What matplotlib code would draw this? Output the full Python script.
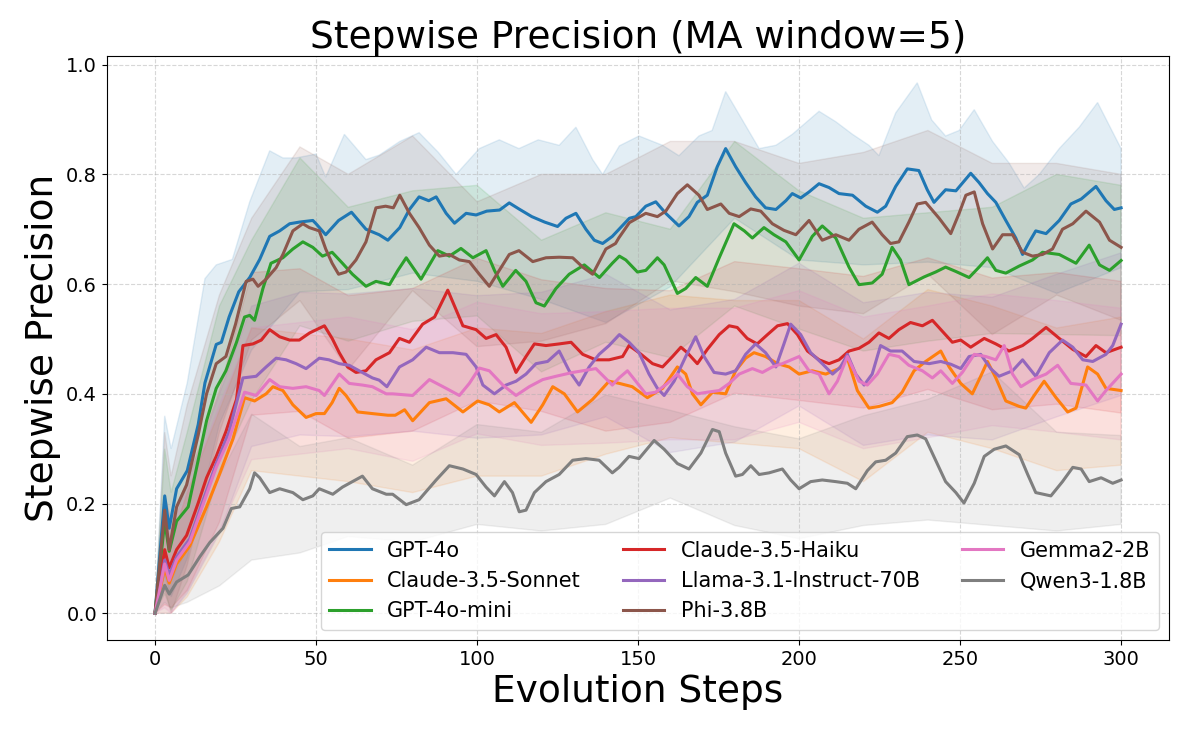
import matplotlib
matplotlib.use("Agg")
import matplotlib.pyplot as plt
import numpy as np

# Moving-average precision per model as (step, value) pairs
GPT4O = [(0, 0), (3, .214), (4.4, .155), (6.7, .227), (10, .26), (13.4, .344), (15.5, .42), (19, .49),
         (20.6, .494), (23, .54), (26, .586), (29.4, .612), (32.5, .645), (35.6, .687), (38.7, .697),
         (41.8, .71), (44.8, .713), (49, .716), (50, .71), (53, .69), (57, .716), (61, .731), (65.5, .70),
         (69.6, .69), (72.3, .68), (76, .703), (79, .736), (82, .759), (85, .752), (87.3, .759), (90.4, .729),
         (93, .711), (96.6, .729), (99.7, .726), (103, .733), (107, .735), (110, .748), (113, .737),
         (117, .723), (121, .713), (125, .705), (127.6, .72), (130.7, .729), (133.8, .70), (136.4, .68),
         (139, .674), (142, .687), (147.3, .72), (149.3, .723), (152.4, .742), (155.5, .75), (158.6, .729),
         (162.7, .706), (165.8, .723), (168.4, .749), (171.5, .762), (174.6, .814), (177.2, .847),
         (180.3, .814), (183.4, .785), (186.5, .759), (189.6, .739), (192.8, .736), (195.9, .752),
         (197.9, .765), (200.5, .757), (203.1, .768), (206.2, .783), (209.3, .776), (212.4, .765),
         (216.6, .762), (220.7, .742), (224.3, .731), (226.9, .742), (230, .778), (233.6, .81), (237.2, .807),
         (239.8, .772), (241.9, .749), (245.5, .772), (248.7, .77), (253.3, .802), (255.9, .785),
         (258.5, .765), (261.1, .749), (264.2, .716), (267.3, .684), (269.4, .654), (271.5, .677),
         (273.5, .697), (276.7, .692), (280.8, .716), (284.4, .746), (287.6, .755), (292.2, .778),
         (295.3, .752), (297.9, .736), (300, .739)]

SONNET = [(0, 0), (3, .083), (4.4, .055), (6.7, .09), (10.8, .123), (16, .194), (20, .253), (24.2, .318),
          (27.8, .393), (30.9, .387), (34.5, .40), (36.6, .413), (39.7, .406), (42.8, .38), (46.9, .357),
          (50, .364), (52.6, .364), (55, .384), (57.2, .41), (59.3, .397), (62.9, .367), (67.5, .364),
          (72.3, .361), (74.6, .361), (77.5, .371), (80, .351), (85.2, .384), (90.4, .391), (95.6, .367),
          (100.2, .387), (103.8, .38), (106.9, .367), (111.6, .384), (116.8, .348), (120.4, .38),
          (123.5, .413), (127.1, .40), (131.2, .367), (135.9, .39), (141, .423), (144.2, .419),
          (148.2, .413), (152.9, .393), (157.6, .41), (162.2, .449), (164.8, .436), (166.9, .40),
          (169.5, .38), (173.1, .403), (177.2, .40), (180.3, .442), (183.4, .465), (186, .475),
          (189.6, .468), (193.3, .455), (196.9, .449), (200, .436), (204.1, .442), (208.3, .436),
          (212.4, .446), (215, .465), (218.1, .406), (221.7, .374), (224.8, .377), (228.9, .384),
          (232, .403), (235.7, .442), (239.3, .459), (244, .478), (246.6, .449), (250.2, .419),
          (253.8, .40), (256.4, .432), (258.5, .459), (261.1, .429), (264.2, .387), (268.4, .377),
          (270.4, .374), (273, .397), (276.1, .423), (279.8, .393), (283.4, .367), (286, .374),
          (289.6, .449), (292.7, .436), (295.3, .41), (300, .406)]

GPT4O_MINI = [(0, 0), (3, .168), (4.4, .113), (6.7, .168), (10.3, .194), (13.4, .279), (16, .351), (19, .41),
              (22, .442), (25.3, .494), (27.8, .54), (29.4, .543), (30.9, .534), (33.5, .592), (36, .638),
              (39.7, .648), (42.8, .664), (45.9, .677), (49, .667), (52, .651), (55, .658), (58.2, .638),
              (61.3, .618), (65.5, .596), (68.6, .605), (72.8, .599), (75.4, .625), (78, .648), (82.6, .609),
              (85.2, .635), (87.8, .661), (91.4, .651), (95, .665), (98.7, .648), (102.8, .661),
              (105.4, .625), (108, .596), (112, .625), (115.2, .605), (118.3, .566), (120.9, .56),
              (124.5, .592), (128.6, .618), (133.3, .635), (138, .612), (142, .638), (144.2, .651),
              (146.2, .644), (149.8, .622), (152.4, .625), (156, .648), (158.1, .635), (162.2, .583),
              (164.8, .592), (167.9, .612), (171.5, .596), (175.2, .648), (179.8, .71), (183, .697),
              (185.5, .684), (189.1, .703), (192.2, .69), (195.9, .677), (200, .644), (204.1, .687),
              (207.2, .706), (211.4, .684), (215.5, .631), (218.6, .599), (222.7, .602), (225.8, .618),
              (228.9, .667), (231.5, .644), (234.1, .599), (238.8, .613), (242.4, .622), (245.5, .631),
              (248.7, .623), (252.8, .612), (255.9, .631), (258.5, .648), (261.1, .625), (264.2, .62),
              (268.4, .633), (272.5, .644), (275.6, .658), (280.8, .654), (286, .638), (290.1, .671),
              (293.3, .635), (296.4, .625), (300, .643)]

HAIKU = [(0, 0), (3, .116), (4.4, .083), (6.7, .116), (9.8, .142), (13.4, .201), (16, .247), (19, .286),
         (22, .331), (25.3, .39), (27.3, .488), (30.4, .491), (33, .498), (35.6, .517), (38.7, .504),
         (41.8, .498), (44.8, .498), (48, .511), (52.6, .524), (55, .501), (57.2, .475), (59.8, .449),
         (62.4, .439), (65.5, .442), (68.6, .462), (72.8, .475), (75.9, .501), (79, .494), (83.1, .527),
         (86.8, .54), (90.9, .589), (95.6, .524), (99.7, .517), (102.8, .501), (105.9, .508), (109, .485),
         (112.1, .439), (115.2, .468), (117.8, .491), (121.4, .488), (125.5, .491), (129.2, .494),
         (132.8, .472), (136.9, .462), (141, .462), (145.2, .468), (147.2, .488), (150.3, .475),
         (154.5, .455), (157.6, .449), (160.7, .468), (163.3, .485), (165.3, .475), (168.4, .455),
         (171.5, .481), (175.2, .508), (178.3, .524), (180.8, .521), (183.9, .501), (187, .491),
         (190.2, .508), (193.3, .524), (196.4, .528), (199.5, .508), (202.6, .478), (206.2, .462),
         (209.3, .455), (212.4, .462), (215.5, .478), (218.6, .483), (221.7, .494), (224.8, .511),
         (227.9, .501), (231, .517), (234.6, .53), (238.3, .524), (241.4, .534), (244.5, .514),
         (247.6, .494), (250.2, .498), (253.3, .485), (257.5, .501), (261.1, .491), (265.2, .478),
         (269.4, .488), (272.5, .501), (276.7, .521), (280.8, .501), (285, .481), (289.1, .468),
         (292.2, .488), (295.3, .475), (300, .485)]

LLAMA = [(0, 0), (3, .097), (4.4, .07), (6.7, .103), (10.8, .136), (15, .207), (19, .273), (23, .331),
         (27.3, .429), (31.4, .432), (34.5, .449), (37.6, .465), (40.7, .462), (43.8, .455), (46.9, .446),
         (51, .465), (54, .462), (57.2, .455), (60.3, .452), (63.4, .442), (67.5, .429), (69.6, .425),
         (72, .413), (75.9, .449), (80, .462), (84.2, .485), (88.3, .475), (92.5, .475), (96.6, .472),
         (99.7, .449), (101.8, .416), (105.4, .40), (109, .416), (112.1, .423), (115.2, .436),
         (118.3, .455), (121.9, .459), (125.5, .478), (128.6, .442), (131.7, .416), (134.8, .449),
         (137.9, .472), (141, .488), (144.2, .508), (147.2, .494), (150.3, .475), (153.4, .436),
         (156, .41), (158.1, .397), (161.2, .423), (164.8, .468), (167.9, .504), (170.5, .468),
         (173.6, .439), (177.2, .436), (180.3, .442), (183.4, .472), (186.5, .491), (189.6, .475),
         (192.8, .449), (195.3, .491), (197.4, .527), (200.5, .508), (203.6, .475), (207.2, .455),
         (210.4, .436), (212.9, .449), (215, .472), (217.6, .436), (220.2, .416), (222.7, .436),
         (225.3, .488), (228.4, .478), (232, .478), (235.7, .459), (240.4, .455), (244, .459),
         (247.1, .454), (250.2, .446), (252.8, .468), (256.4, .472), (259.5, .446), (262.1, .432),
         (266.3, .442), (269.4, .462), (273.5, .432), (277.7, .475), (281.8, .498), (285, .485),
         (288.1, .462), (291.2, .459), (295.3, .472), (297.4, .488), (300, .527)]

PHI = [(0, 0), (3, .188), (4.4, .116), (6.7, .194), (9.8, .234), (13.4, .325), (16, .40), (19, .455),
       (22, .468), (25, .527), (28.3, .605), (30.4, .609), (32, .596), (34.5, .609), (37.6, .63),
       (39.7, .654), (42.8, .697), (45.9, .71), (47.9, .703), (51, .697), (53, .664), (55, .638), (57, .618),
       (59.3, .622), (62.4, .644), (65.5, .677), (68.6, .739), (71.6, .742), (74, .739), (76, .762),
       (79, .729), (82, .703), (85.2, .671), (88.3, .651), (91.4, .654), (94.5, .644), (97.6, .641),
       (100.7, .618), (103.8, .596), (106.9, .625), (110, .654), (113, .661), (117.3, .641), (121.4, .648),
       (125.5, .649), (129.7, .648), (132.8, .631), (135.9, .618), (140, .664), (143, .674), (144, .684),
       (147.3, .712), (152.4, .729), (156, .723), (158.6, .733), (162.2, .765), (165.3, .781),
       (168.9, .762), (171.5, .736), (175.7, .746), (178.3, .729), (181.4, .723), (185, .737),
       (188.1, .733), (191.7, .71), (195.3, .698), (199, .69), (203.1, .716), (207.2, .68), (211.4, .69),
       (215.5, .68), (218.6, .70), (222.7, .713), (225.8, .69), (228.4, .674), (231, .677), (234.1, .713),
       (236.7, .746), (239.3, .749), (243.5, .72), (247.1, .692), (249.7, .729), (251.8, .762),
       (254.4, .768), (257, .71), (260.1, .664), (263.2, .69), (266.3, .69), (269.4, .658), (272.5, .651),
       (275.6, .654), (278.7, .664), (281.8, .70), (285, .71), (289.1, .733), (293.3, .713), (296.4, .68),
       (300, .667)]

GEMMA = [(0, 0), (3, .09), (4.4, .06), (6.7, .097), (10.8, .13), (15, .20), (19, .266), (23, .318),
         (27.8, .403), (31.4, .397), (35.6, .426), (38.7, .413), (42.8, .41), (46.9, .413), (51, .406),
         (52.6, .397), (57.2, .436), (60.3, .419), (64.4, .416), (67.5, .413), (71.8, .40), (73.8, .40),
         (80, .397), (85.2, .426), (90.4, .41), (94.5, .397), (97.6, .419), (100.7, .447), (103.8, .442),
         (108, .416), (112.1, .397), (116.2, .413), (120.4, .426), (124.5, .432), (129.7, .439),
         (132.8, .442), (136.9, .446), (142, .416), (144.1, .429), (146.7, .442), (149.3, .423),
         (152.4, .40), (155.5, .403), (159.1, .419), (162.2, .436), (165.3, .413), (168.4, .40),
         (171.5, .403), (175.2, .406), (178.3, .419), (181.4, .436), (185.5, .446), (188.6, .439),
         (191.7, .449), (194.8, .455), (200, .468), (203.1, .442), (206.2, .436), (209.3, .40),
         (211.9, .423), (215, .468), (218.6, .423), (221.2, .416), (224.3, .436), (227.9, .472),
         (231, .468), (234.1, .452), (238.3, .442), (241.4, .429), (244, .442), (247.6, .419),
         (250.7, .439), (254.4, .472), (258, .468), (261.1, .462), (263.7, .488), (266.3, .436),
         (268.9, .413), (272.5, .426), (276.7, .436), (280.3, .452), (284.4, .419), (289.1, .416),
         (292.7, .387), (295.3, .406), (300, .436)]

QWEN = [(0, 0), (3, .051), (4.4, .035), (6.7, .057), (10.3, .07), (13.9, .103), (17, .129), (21.1, .155),
        (23.7, .191), (26.3, .194), (29.4, .227), (30.9, .256), (32.5, .247), (35.6, .22), (38.7, .227),
        (42.8, .22), (45.9, .207), (49, .214), (51, .227), (55.2, .217), (58.2, .23), (64.4, .25),
        (67.5, .227), (71.8, .217), (73.8, .217), (78, .198), (82, .207), (87.3, .243), (91.4, .269),
        (95.6, .263), (99.7, .253), (102.8, .23), (105.4, .214), (108.5, .24), (111, .22), (113.1, .185),
        (115.2, .188), (117.8, .22), (121.4, .24), (125.5, .253), (129.7, .279), (133.8, .282),
        (137.9, .279), (142, .256), (144.1, .266), (147.2, .286), (150.3, .282), (155, .315), (158.1, .299),
        (162.2, .273), (165.8, .263), (169.5, .292), (173.1, .335), (175.2, .331), (177.2, .292),
        (180.3, .25), (182.4, .253), (185, .269), (187.6, .253), (190.7, .256), (194.8, .263),
        (197.4, .243), (200, .227), (203.6, .24), (207.2, .243), (211.4, .24), (215, .237), (217.6, .227),
        (221.2, .26), (223.8, .276), (226.9, .279), (230, .292), (233.6, .322), (236.7, .325),
        (239.3, .318), (242.4, .279), (245.5, .24), (248.7, .22), (251.2, .201), (254.4, .237),
        (257.5, .286), (260.6, .299), (264.2, .305), (268.4, .289), (271, .253), (273.5, .22),
        (278.2, .214), (281.8, .24), (285, .266), (287.6, .263), (290.1, .24), (293.8, .247),
        (297.4, .237), (300, .243)]

# Std bands (upper / lower envelopes), read coarsely
BAND_STEPS = [0, 3, 5, 10, 20, 30, 45, 60, 80, 100, 120, 140, 160, 180, 200, 220, 240, 260, 280, 300]

GPT4O_HI = [(0, 0), (3, .36), (5, .30), (10, .42), (15.5, .61), (19, .635), (24, .645), (29.4, .75),
            (35.6, .843), (39.7, .83), (43.8, .83), (50, .837), (53, .795), (58.8, .873), (65.5, .827),
            (69.6, .835), (76, .86), (82, .876), (88, .84), (93.5, .80), (100.7, .847), (106.9, .863),
            (113, .847), (119, .863), (125.5, .853), (130.7, .886), (135.9, .827), (139, .80), (144.2, .852),
            (150.3, .87), (157.6, .853), (162.7, .834), (168.9, .87), (173, .88), (177.2, .951),
            (182.4, .899), (187.6, .847), (192.8, .853), (197.9, .873), (206.2, .915), (211.4, .896),
            (216.6, .873), (221.7, .853), (224.8, .834), (230, .912), (236.7, .967), (241.2, .899),
            (245.5, .87), (249.7, .88), (254.4, .918), (260.1, .86), (265.2, .821), (269.9, .775),
            (274.6, .80), (280.8, .847), (287, .886), (292.7, .931), (300, .847)]
GPT4O_LO = [0, .07, .03, .10, .345, .48, .586, .59, .62, .605, .572, .53, .595, .72, .644, .635, .64, .63, .583, .63]

SONNET_HI = [0, .17, .13, .22, .37, .52, .51, .50, .48, .52, .51, .55, .58, .57, .57, .50, .59, .56, .52, .54]
SONNET_LO = [0, 0, 0, .03, .13, .26, .25, .24, .22, .25, .25, .29, .32, .31, .30, .24, .33, .30, .26, .27]

MINI_HI = [0, .30, .22, .33, .56, .68, .83, .74, .77, .78, .68, .73, .70, .86, .77, .72, .73, .74, .80, .78]
MINI_LO = [0, .036, .006, .058, .26, .388, .524, .496, .532, .542, .44, .494, .466, .56, .518, .478, .496, .51, .508, .506]

HAIKU_HI = [0, .216, .17, .242, .406, .621, .628, .579, .592, .647, .608, .592, .588, .641, .628, .614, .648, .611, .621, .605]
HAIKU_LO = [0, .016, .01, .042, .166, .361, .368, .319, .332, .387, .368, .332, .348, .401, .388, .374, .408, .371, .381, .365]

LLAMA_HI = [0, .197, .15, .236, .40, .56, .585, .582, .592, .579, .585, .618, .553, .572, .638, .566, .585, .576, .618, .657]
LLAMA_LO = [0, 0, 0, .036, .146, .304, .325, .322, .332, .319, .325, .358, .293, .312, .378, .306, .325, .316, .358, .397]

PHI_HI = [0, .33, .25, .38, .58, .72, .85, .80, .87, .75, .80, .80, .86, .86, .82, .84, .88, .82, .82, .80]
PHI_LO = [0, .046, 0, .088, .33, .498, .57, .444, .588, .486, .496, .528, .606, .586, .56, .546, .618, .508, .58, .534]

GEMMA_HI = [0, .18, .14, .22, .38, .52, .53, .54, .517, .567, .546, .55, .556, .556, .588, .54, .56, .582, .57, .556]
GEMMA_LO = [0, .01, 0, .04, .15, .28, .29, .30, .277, .327, .306, .31, .316, .316, .348, .30, .32, .342, .33, .316]

QWEN_HI = [0, .082, .06, .12, .25, .363, .304, .32, .27, .344, .33, .398, .37, .34, .318, .36, .39, .44, .33, .324]
QWEN_LO = [0, .02, .01, .02, .05, .097, .11, .14, .13, .162, .15, .162, .21, .16, .136, .16, .17, .16, .15, .162]

LABELS = ["GPT-4o", "Claude-3.5-Sonnet", "GPT-4o-mini", "Claude-3.5-Haiku",
          "Llama-3.1-Instruct-70B", "Phi-3.8B", "Gemma2-2B", "Qwen3-1.8B"]
COLORS = ["#1f77b4", "#ff7f0e", "#2ca02c", "#d62728", "#9467bd", "#8c564b", "#e377c2", "#7f7f7f"]

series = [GPT4O, SONNET, GPT4O_MINI, HAIKU, LLAMA, PHI, GEMMA, QWEN]
band_hi = [GPT4O_HI, SONNET_HI, MINI_HI, HAIKU_HI, LLAMA_HI, PHI_HI, GEMMA_HI, QWEN_HI]
band_lo = [GPT4O_LO, SONNET_LO, MINI_LO, HAIKU_LO, LLAMA_LO, PHI_LO, GEMMA_LO, QWEN_LO]


def as_xy(env):
    # envelope is either a list of (step, value) pairs or values on BAND_STEPS
    if isinstance(env[0], tuple):
        a = np.array(env, dtype=float)
        return a[:, 0], a[:, 1]
    return np.array(BAND_STEPS, dtype=float), np.array(env, dtype=float)


fig, ax = plt.subplots(figsize=(11.86, 7.35), dpi=100)
fig.subplots_adjust(left=0.090, right=0.986, top=0.924, bottom=0.129)

# bands first
for hi, lo, c in zip(band_hi, band_lo, COLORS):
    xh, yh = as_xy(hi)
    xl, yl = as_xy(lo)
    ax.fill(np.r_[xh, xl[::-1]], np.r_[yh, yl[::-1]], color=c, alpha=0.12, lw=1)

for data, lab, c in zip(series, LABELS, COLORS):
    a = np.array(data, dtype=float)
    ax.plot(a[:, 0], a[:, 1], color=c, lw=2.2, label=lab)

ax.set_xlim(-15, 315)
ax.set_ylim(-0.049, 1.016)
ax.set_title("Stepwise Precision (MA window=5)", fontsize=27)
ax.set_xlabel("Evolution Steps", fontsize=27)
ax.set_ylabel("Stepwise Precision", fontsize=27)
ax.tick_params(labelsize=14)
ax.grid(True, linestyle='--', alpha=0.5)
ax.legend(loc='lower right', ncol=3, fontsize=15)

fig.savefig("out.png", dpi=100)
